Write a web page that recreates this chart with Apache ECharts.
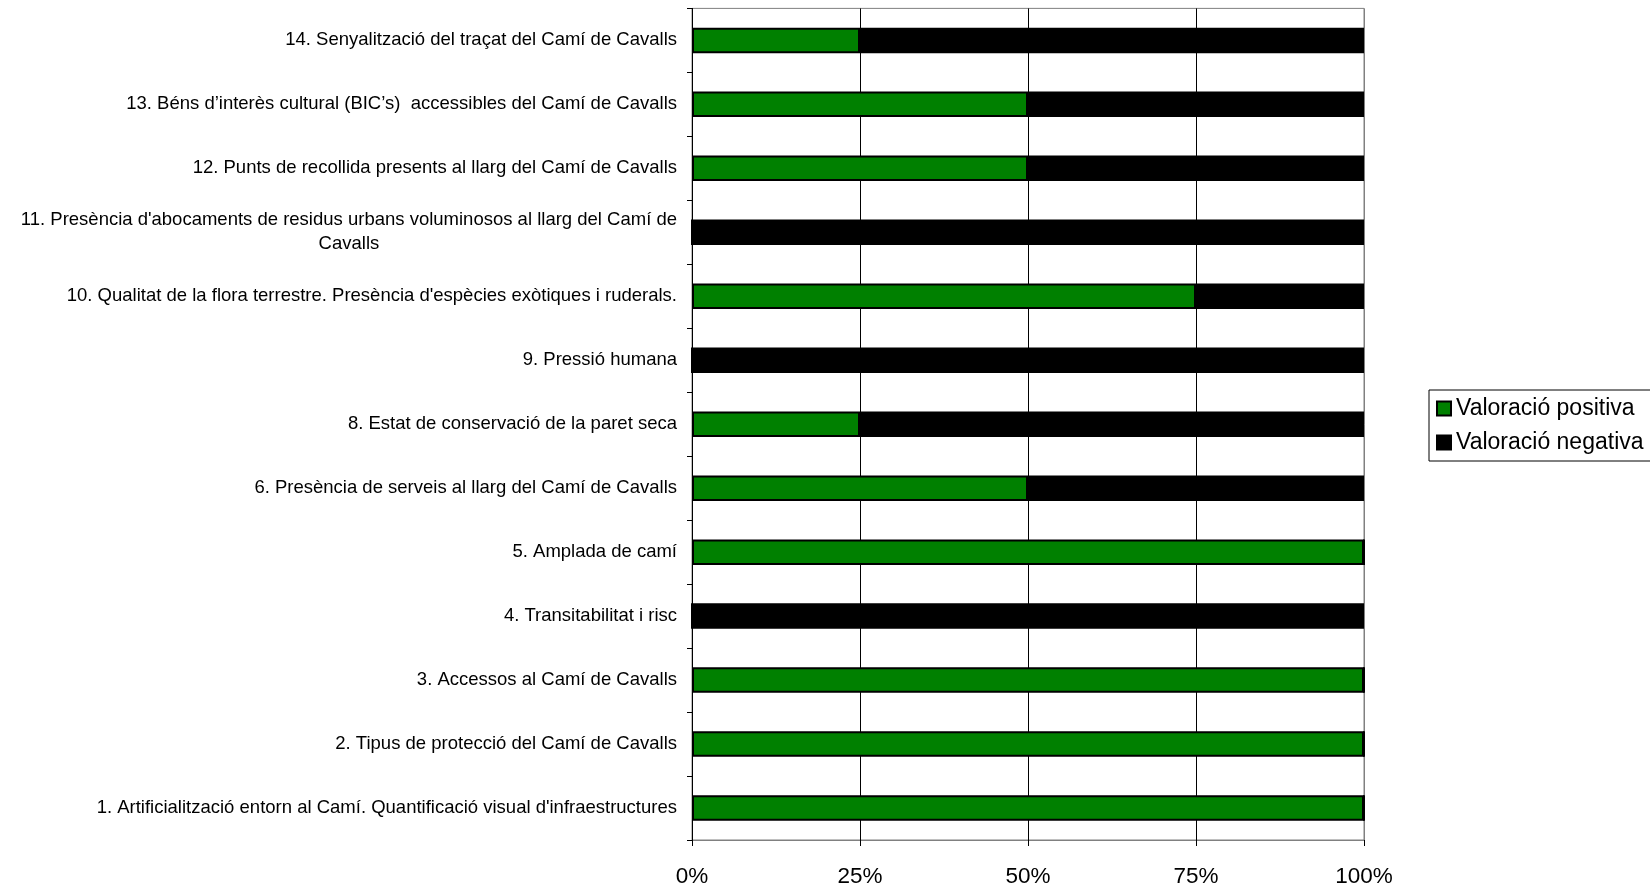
<!DOCTYPE html>
<html>
<head>
<meta charset="utf-8">
<script src="https://cdn.jsdelivr.net/npm/echarts@6/dist/echarts.min.js"></script>
<style>html,body{margin:0;padding:0;background:#fff}#c{width:1650px;height:888px}</style>
</head>
<body>
<div id="c"></div>
<script>
const categories = [
  "1. Artificialització entorn al Camí. Quantificació visual d'infraestructures",
  "2. Tipus de protecció del Camí de Cavalls",
  "3. Accessos al Camí de Cavalls",
  "4. Transitabilitat i risc",
  "5. Amplada de camí",
  "6. Presència de serveis al llarg del Camí de Cavalls",
  "8. Estat de conservació de la paret seca",
  "9. Pressió humana",
  "10. Qualitat de la flora terrestre. Presència d'espècies exòtiques i ruderals.",
  "11. Presència d'abocaments de residus urbans voluminosos al llarg del Camí de\nCavalls",
  "12. Punts de recollida presents al llarg del Camí de Cavalls",
  "13. Béns d’interès cultural (BIC’s)  accessibles del Camí de Cavalls",
  "14. Senyalització del traçat del Camí de Cavalls"
];
const positiva = [100, 100, 100, 0, 100, 50, 25, 0, 75, 0, 50, 50, 25];
const negativa = [0, 0, 0, 100, 0, 50, 75, 100, 25, 100, 50, 50, 75];
const xTicks = [0, 25, 50, 75, 100];
const seriesNames = ["Valoració positiva", "Valoració negativa"];

const chart = echarts.init(document.getElementById('c'));
const font = "'Liberation Sans', Arial, sans-serif";
chart.setOption({
  animation: false,
  backgroundColor: '#fff',
  textStyle: { fontFamily: font, color: '#000' },
  grid: { left: 692, right: 286, top: 8.4, bottom: 46, show: true, borderColor: '#808080', borderWidth: 1 },
  legend: {
    orient: 'vertical',
    left: 1429, top: 390,
    padding: [7, 8, 7, 7],
    borderColor: '#000', borderWidth: 1,
    itemWidth: 14, itemHeight: 14, itemGap: 11,
    icon: 'rect',
    textStyle: { fontFamily: font, fontSize: 23, color: '#000', padding: [0, 0, 0, 0] },
    data: seriesNames
  },
  xAxis: {
    type: 'value', min: 0, max: 100, interval: 25,
    axisLine: { show: true, lineStyle: { color: '#808080', width: 1 } },
    axisTick: { show: true, length: 6, lineStyle: { color: '#000' } },
    axisLabel: { fontFamily: font, fontSize: 22.5, color: '#000', margin: 25, formatter: v => xTicks.includes(v) ? v + '%' : '' },
    splitLine: { show: true, lineStyle: { color: ['#808080', '#000', '#000', '#000', '#808080'], width: 1 } }
  },
  yAxis: {
    type: 'category', data: categories,
    axisLine: { show: true, lineStyle: { color: '#000', width: 1 } },
    axisTick: { show: true, length: 5, lineStyle: { color: '#000' } },
    axisLabel: {
      fontFamily: font, fontSize: 18.5, color: '#000', margin: 15, lineHeight: 24,
      formatter: function (v) {
        const parts = v.split('\n');
        if (parts.length > 1) return parts.map(p => '{c|' + p + '}').join('\n');
        return v;
      },
      rich: { c: { align: 'center', fontFamily: font, fontSize: 18.5, color: '#000', lineHeight: 24 } }
    },
    splitLine: { show: false }
  },
  series: [
    {
      name: seriesNames[0], type: 'bar', stack: 't', data: positiva, barWidth: 25.5,
      itemStyle: { color: '#008000', borderColor: '#000', borderWidth: 2 }
    },
    {
      name: seriesNames[1], type: 'bar', stack: 't', data: negativa, barWidth: 25.5,
      itemStyle: { color: '#000', borderColor: '#000', borderWidth: 2 }
    }
  ]
});
</script>
</body>
</html>
